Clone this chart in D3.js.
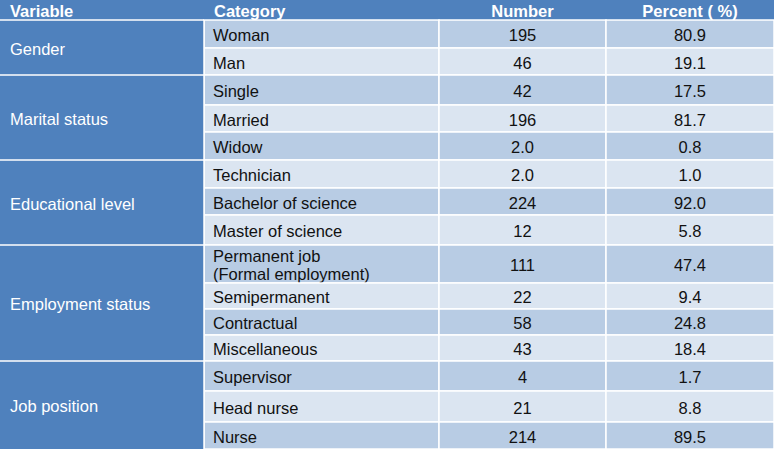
<!DOCTYPE html>
<meta charset="utf-8">
<script src="https://cdn.jsdelivr.net/npm/d3@7"></script>
<style>
  body { margin: 0; background: #fff; }
  text { font-family: "Liberation Sans", Arial, sans-serif; font-size: 16.5px; }
</style>
<div id="my_table"></div>
<script>

// table contents
var headers = ["Variable", "Category", "Number", "Percent ( %)"];
var variables = ["Gender", "Marital status", "Educational level", "Employment status", "Job position"];
var groupSizes = [2, 3, 3, 4, 3];
var categories = ["Woman", "Man", "Single", "Married", "Widow", "Technician", "Bachelor of science",
  "Master of science", "Permanent job\n(Formal employment)", "Semipermanent", "Contractual",
  "Miscellaneous", "Supervisor", "Head nurse", "Nurse"];
var numbers = ["195", "46", "42", "196", "2.0", "2.0", "224", "12", "111", "22", "58", "43", "4", "21", "214"];
var percents = ["80.9", "19.1", "17.5", "81.7", "0.8", "1.0", "92.0", "5.8", "47.4", "9.4", "24.8", "18.4", "1.7", "8.8", "89.5"];

// layout: column edges and row edges (pixels)
var width = 774, height = 449;
var colEdges = [0, 204, 439, 606, 774];
var rowEdges = [0, 20, 48, 75, 105, 132, 160, 188, 215, 245, 283, 309, 335, 361, 391, 422, 449];

var blue = "#4f81bd", dark = "#b8cce4", light = "#dbe5f1";

var svg = d3.select("#my_table")
  .append("svg")
    .attr("width", width)
    .attr("height", height);

// header row
var head = svg.selectAll(".head")
  .data(headers)
  .enter()
  .append("g")
    .attr("class", "head");

head.append("rect")
    .attr("x", function(d, i) { return colEdges[i]; })
    .attr("y", rowEdges[0])
    .attr("width", function(d, i) { return colEdges[i + 1] - colEdges[i]; })
    .attr("height", rowEdges[1] - rowEdges[0])
    .style("fill", blue);

head.append("text")
    .attr("x", function(d, i) { return i < 2 ? colEdges[i] + 10 : (colEdges[i] + colEdges[i + 1]) / 2; })
    .attr("y", (rowEdges[0] + rowEdges[1]) / 2 + 1)
    .attr("dominant-baseline", "central")
    .attr("text-anchor", function(d, i) { return i < 2 ? "start" : "middle"; })
    .style("font-weight", "bold")
    .style("fill", "#fff")
    .text(function(d) { return d; });

// body rows
var rows = categories.map(function(c, i) {
  return {cat: c, num: numbers[i], pct: percents[i], top: rowEdges[i + 1], bottom: rowEdges[i + 2], idx: i};
});

var row = svg.selectAll(".row")
  .data(rows)
  .enter()
  .append("g")
    .attr("class", "row");

[1, 2, 3].forEach(function(c) {
  row.append("rect")
      .attr("x", colEdges[c])
      .attr("y", function(d) { return d.top; })
      .attr("width", colEdges[c + 1] - colEdges[c])
      .attr("height", function(d) { return d.bottom - d.top; })
      .style("fill", function(d) { return d.idx % 2 === 0 ? dark : light; })
      .style("stroke", "#fff")
      .style("stroke-width", 1.5);
});

// category text, may have two lines
row.append("text")
    .attr("x", colEdges[1] + 9)
    .attr("y", function(d) { return (d.top + d.bottom) / 2 + 1; })
    .attr("dominant-baseline", "central")
    .style("fill", "#111")
  .each(function(d) {
    var lines = d.cat.split("\n");
    var t = d3.select(this);
    lines.forEach(function(l, k) {
      t.append("tspan")
        .attr("x", colEdges[1] + 9)
        .attr("dy", k === 0 ? (-(lines.length - 1) * 9) + "px" : "18px")
        .text(l);
    });
  });

row.append("text")
    .attr("x", (colEdges[2] + colEdges[3]) / 2)
    .attr("y", function(d) { return (d.top + d.bottom) / 2 + 1; })
    .attr("dominant-baseline", "central")
    .attr("text-anchor", "middle")
    .style("fill", "#111")
    .text(function(d) { return d.num; });

row.append("text")
    .attr("x", (colEdges[3] + colEdges[4]) / 2)
    .attr("y", function(d) { return (d.top + d.bottom) / 2 + 1; })
    .attr("dominant-baseline", "central")
    .attr("text-anchor", "middle")
    .style("fill", "#111")
    .text(function(d) { return d.pct; });

// variable groups in the first column
var start = 0;
var groups = variables.map(function(v, i) {
  var g = {name: v, top: rowEdges[start + 1], bottom: rowEdges[start + groupSizes[i] + 1]};
  start += groupSizes[i];
  return g;
});

var group = svg.selectAll(".group")
  .data(groups)
  .enter()
  .append("g")
    .attr("class", "group");

group.append("rect")
    .attr("x", colEdges[0])
    .attr("y", function(d) { return d.top; })
    .attr("width", colEdges[1] - colEdges[0])
    .attr("height", function(d) { return d.bottom - d.top; })
    .style("fill", blue);

group.append("line")
    .attr("x1", colEdges[0])
    .attr("x2", colEdges[1])
    .attr("y1", function(d) { return d.top; })
    .attr("y2", function(d) { return d.top; })
    .style("stroke", "#fff")
    .style("stroke-width", 1.5);

group.append("text")
    .attr("x", colEdges[0] + 10)
    .attr("y", function(d) { return (d.top + d.bottom) / 2 + 1; })
    .attr("dominant-baseline", "central")
    .style("fill", "#fff")
    .text(function(d) { return d.name; });

// divider between first column and the rest
svg.append("line")
    .attr("x1", colEdges[1]).attr("x2", colEdges[1])
    .attr("y1", rowEdges[1]).attr("y2", height)
    .style("stroke", "#fff")
    .style("stroke-width", 1.5);

</script>
